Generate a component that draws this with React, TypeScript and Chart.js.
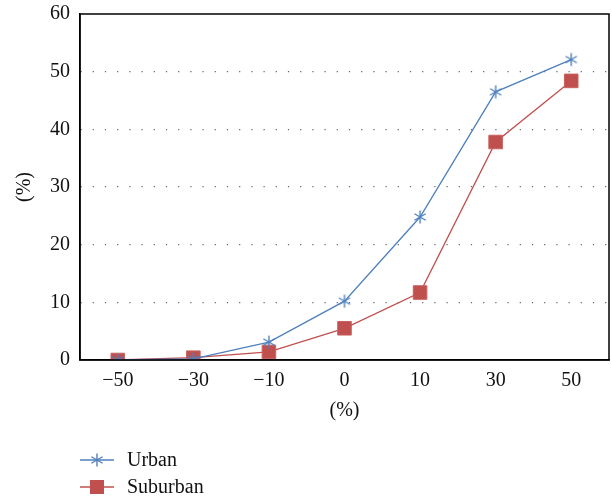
import React, { useEffect, useRef } from "react";
import { Chart, registerables } from "chart.js";

Chart.register(...registerables);

const categories = ["\u221250", "\u221230", "\u221210", "0", "10", "30", "50"];
const urban = [0, 0.2, 3.1, 10.2, 24.8, 46.5, 52.1];
const suburban = [0, 0.4, 1.4, 5.5, 11.7, 37.8, 48.4];
const yTicks = [0, 10, 20, 30, 40, 50, 60];
const seriesNames = ["Urban", "Suburban"];

const BLUE = "#4F81BD";
const RED = "#C0504D";
const FONT = "'Liberation Serif', 'DejaVu Serif', serif";
const FS = 20;

function makeAsterisk(): HTMLCanvasElement {
  const c = document.createElement("canvas");
  const s = 16;
  c.width = s;
  c.height = s;
  const ctx = c.getContext("2d")!;
  ctx.strokeStyle = BLUE;
  ctx.lineWidth = 1.4;
  const m = s / 2;
  const r = 6.5;
  ctx.beginPath();
  ctx.moveTo(m, m - r);
  ctx.lineTo(m, m + r);
  const dx = r * Math.cos(Math.PI / 6);
  const dy = r * Math.sin(Math.PI / 6);
  ctx.moveTo(m - dx, m - dy);
  ctx.lineTo(m + dx, m + dy);
  ctx.moveTo(m - dx, m + dy);
  ctx.lineTo(m + dx, m - dy);
  ctx.stroke();
  return c;
}

export default function App() {
  const ref = useRef<HTMLCanvasElement>(null);
  useEffect(() => {
    document.body.style.margin = "0";
    const star = makeAsterisk();
    const boxPlugin = {
      id: "box",
      afterDraw(chart: any) {
        const { ctx, chartArea: a } = chart;
        ctx.save();
        ctx.strokeStyle = "#000";
        ctx.lineWidth = 1.5;
        ctx.strokeRect(a.left, a.top, a.right - a.left, a.bottom - a.top);
        const items = [
          { name: seriesNames[0], color: BLUE, y: 460, kind: "star" },
          { name: seriesNames[1], color: RED, y: 487, kind: "rect" },
        ];
        ctx.font = `${FS}px ${FONT}`;
        ctx.textBaseline = "middle";
        ctx.textAlign = "left";
        for (const it of items) {
          ctx.strokeStyle = it.color;
          ctx.lineWidth = 1.3;
          ctx.beginPath();
          ctx.moveTo(80, it.y);
          ctx.lineTo(114, it.y);
          ctx.stroke();
          if (it.kind === "star") {
            ctx.drawImage(star, 97 - star.width / 2, it.y - star.height / 2);
          } else {
            ctx.fillStyle = it.color;
            ctx.fillRect(97 - 7, it.y - 7, 14, 14);
          }
          ctx.fillStyle = "#111";
          ctx.fillText(it.name, 127, it.y + 1);
        }
        ctx.restore();
      },
    };
    const chart = new Chart(ref.current!, {
      type: "line",
      data: {
        labels: categories,
        datasets: [
          {
            label: seriesNames[0],
            data: urban,
            borderColor: BLUE,
            backgroundColor: BLUE,
            borderWidth: 1.3,
            pointStyle: star as any,
            pointRadius: 8,
            tension: 0,
          },
          {
            label: seriesNames[1],
            data: suburban,
            borderColor: RED,
            backgroundColor: RED,
            borderWidth: 1.3,
            pointStyle: "rect",
            pointRadius: 9.6,
            pointBorderWidth: 1,
            pointBorderColor: "#C9625F",
            tension: 0,
          },
        ],
      },
      options: {
        responsive: false,
        animation: false,
        layout: { autoPadding: false, padding: { top: 14, right: 3, bottom: 66, left: 0 } },
        plugins: { legend: { display: false }, tooltip: { enabled: false } },
        scales: {
          x: {
            type: "category",
            offset: true,
            grid: { display: false, drawTicks: false },
            border: { display: true, color: "#000", width: 1.5 },
            ticks: { color: "#111", font: { family: FONT, size: FS }, padding: 9, maxRotation: 0 },
            title: { display: true, text: "(%)", color: "#111", font: { family: FONT, size: FS }, padding: { top: 4, bottom: 7 } },
            afterFit: (s: any) => { s.height = 70; s.paddingLeft = 0; s.paddingRight = 0; },
          },
          y: {
            min: 0,
            max: 60,
            afterBuildTicks: (s: any) => { s.ticks = yTicks.map((v) => ({ value: v })); },
            grid: {
              drawTicks: false,
              color: (c: any) => (c.tick && c.tick.value > 0 && c.tick.value < 60 ? "#666" : "rgba(0,0,0,0)"),
              lineWidth: 1.2,
            } as any,
            border: { display: true, color: "#000", width: 1.5, dash: [1.2, 11] } as any,
            ticks: { color: "#111", font: { family: FONT, size: FS }, padding: 10 },
            title: { display: true, text: "(%)", color: "#111", font: { family: FONT, size: FS }, padding: { top: 13, bottom: 4 } },
            afterFit: (s: any) => { s.width = 80; s.paddingTop = 0; s.paddingBottom = 0; },
          },
        },
      },
      plugins: [boxPlugin],
    });
    return () => chart.destroy();
  }, []);
  return <canvas ref={ref} width={612} height={496} />;
}
